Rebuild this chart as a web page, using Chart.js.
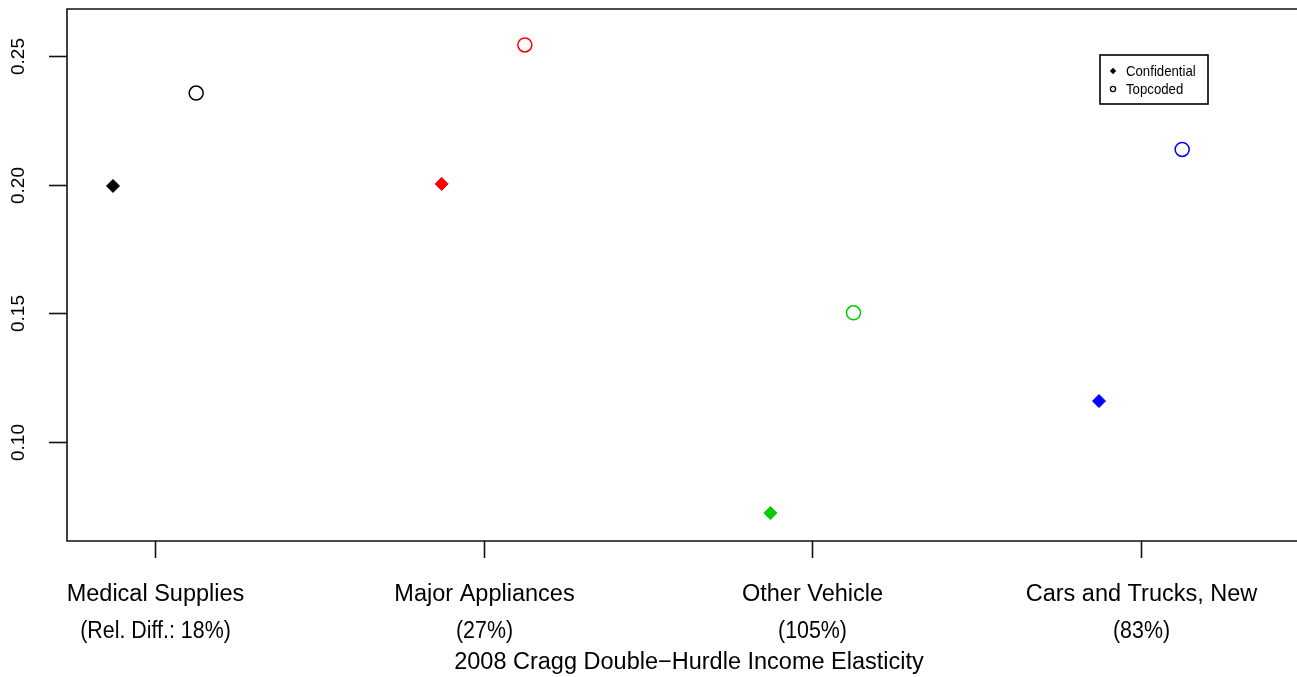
<!DOCTYPE html>
<html>
<head>
<meta charset="utf-8">
<script src="https://cdn.jsdelivr.net/npm/chart.js@4.4.1/dist/chart.umd.min.js"></script>
<style>
  html, body { margin: 0; padding: 0; overflow: hidden; background: #fff; }
  #wrap { width: 1320px; height: 677px; }
</style>
</head>
<body>
<div id="wrap"><canvas id="c" width="1320" height="677"></canvas></div>
<script>
// Spending categories and their relative-difference captions
const categories = ['Medical Supplies', 'Major Appliances', 'Other Vehicle', 'Cars and Trucks, New'];
const relDiff = ['(Rel. Diff.: 18%)', '(27%)', '(105%)', '(83%)'];

// Income elasticity estimates
const confidential = [0.1995, 0.2003, 0.0724, 0.1159];
const topcoded = [0.2356, 0.2543, 0.1502, 0.2137];

// Y-axis tick labels
const yTicks = [0.10, 0.15, 0.20, 0.25];

const colors = ['#000000', '#FF0000', '#00CD00', '#0000FF'];
const axisTitle = '2008 Cragg Double\u2212Hurdle Income Elasticity';

const confPoints = confidential.map((v, i) => ({ x: i + 1 - 0.128, y: v }));
const topPoints = topcoded.map((v, i) => ({ x: i + 1 + 0.125, y: v }));

const FONT = '"Liberation Sans", Arial, Helvetica, sans-serif';

const frame = {
  id: 'frame',
  afterDraw(chart) {
    const { ctx, chartArea: a, scales } = chart;
    const xs = scales.x, ys = scales.y;
    ctx.save();
    ctx.strokeStyle = '#111';
    ctx.lineWidth = 1.6;
    ctx.beginPath();
    ctx.moveTo(a.right, a.top); ctx.lineTo(a.left, a.top);
    ctx.lineTo(a.left, a.bottom); ctx.lineTo(a.right, a.bottom);
    ctx.stroke();

    // x ticks and two-line category labels
    ctx.fillStyle = '#000';
    ctx.textAlign = 'center';
    ctx.textBaseline = 'middle';
    ctx.font = '23.5px ' + FONT;
    categories.forEach((c, i) => {
      const px = Math.round(xs.getPixelForValue(i + 1)) + 0.5;
      ctx.beginPath();
      ctx.moveTo(px, a.bottom); ctx.lineTo(px, a.bottom + 17);
      ctx.stroke();
      ctx.fillText(c, px, 595);
      // second line is set slightly tighter
      ctx.save();
      ctx.translate(px, 632);
      ctx.scale(0.91, 1);
      ctx.fillText(relDiff[i], 0, 0);
      ctx.restore();
    });
    ctx.fillText(axisTitle, (a.left + a.right) / 2, 663);

    // y ticks with rotated labels
    ctx.font = '19px ' + FONT;
    yTicks.forEach(t => {
      const py = Math.round(ys.getPixelForValue(t)) + 0.5;
      ctx.beginPath();
      ctx.moveTo(a.left - 18, py); ctx.lineTo(a.left, py);
      ctx.stroke();
      ctx.save();
      ctx.translate(19, py);
      ctx.rotate(-Math.PI / 2);
      ctx.fillText(t.toFixed(2), 0, 0);
      ctx.restore();
    });

    // legend
    const lx = 1100, ly = 55, lw = 108, lh = 49;
    ctx.lineWidth = 1.6;
    ctx.strokeStyle = '#000';
    ctx.strokeRect(lx, ly, lw, lh);
    ctx.textAlign = 'left';
    [['Confidential', 17], ['Topcoded', 35]].forEach(([txt, oy]) => {
      ctx.save();
      ctx.translate(lx + 26, ly + oy);
      ctx.scale(0.88, 1);
      ctx.font = '15px ' + FONT;
      ctx.fillText(txt, 0, 0);
      ctx.restore();
    });
    ctx.fillStyle = '#000';
    ctx.beginPath();
    const dx = lx + 13, dy = ly + 16, r = 3.2;
    ctx.moveTo(dx - r, dy); ctx.lineTo(dx, dy - r); ctx.lineTo(dx + r, dy); ctx.lineTo(dx, dy + r);
    ctx.closePath(); ctx.fill();
    ctx.lineWidth = 1.3;
    ctx.beginPath();
    ctx.arc(lx + 13, ly + 34, 2.6, 0, Math.PI * 2);
    ctx.stroke();
    ctx.restore();
  }
};

new Chart(document.getElementById('c'), {
  type: 'scatter',
  data: {
    datasets: [
      {
        label: 'Confidential',
        data: confPoints,
        pointStyle: 'rectRot',
        pointRadius: 6.5,
        pointBorderWidth: 1,
        backgroundColor: colors,
        borderColor: colors
      },
      {
        label: 'Topcoded',
        data: topPoints,
        pointStyle: 'circle',
        pointRadius: 7,
        pointBorderWidth: 1.5,
        backgroundColor: 'rgba(0,0,0,0)',
        borderColor: colors
      }
    ]
  },
  options: {
    responsive: false,
    animation: false,
    devicePixelRatio: 1,
    layout: { padding: { left: 67, top: 9, right: 9, bottom: 136 } },
    scales: {
      x: { type: 'linear', display: false, min: 0.732, max: 4.517 },
      y: { type: 'linear', display: false, min: 0.06153, max: 0.26826 }
    },
    plugins: {
      legend: { display: false },
      tooltip: { enabled: false }
    }
  },
  plugins: [frame]
});
</script>
</body>
</html>
